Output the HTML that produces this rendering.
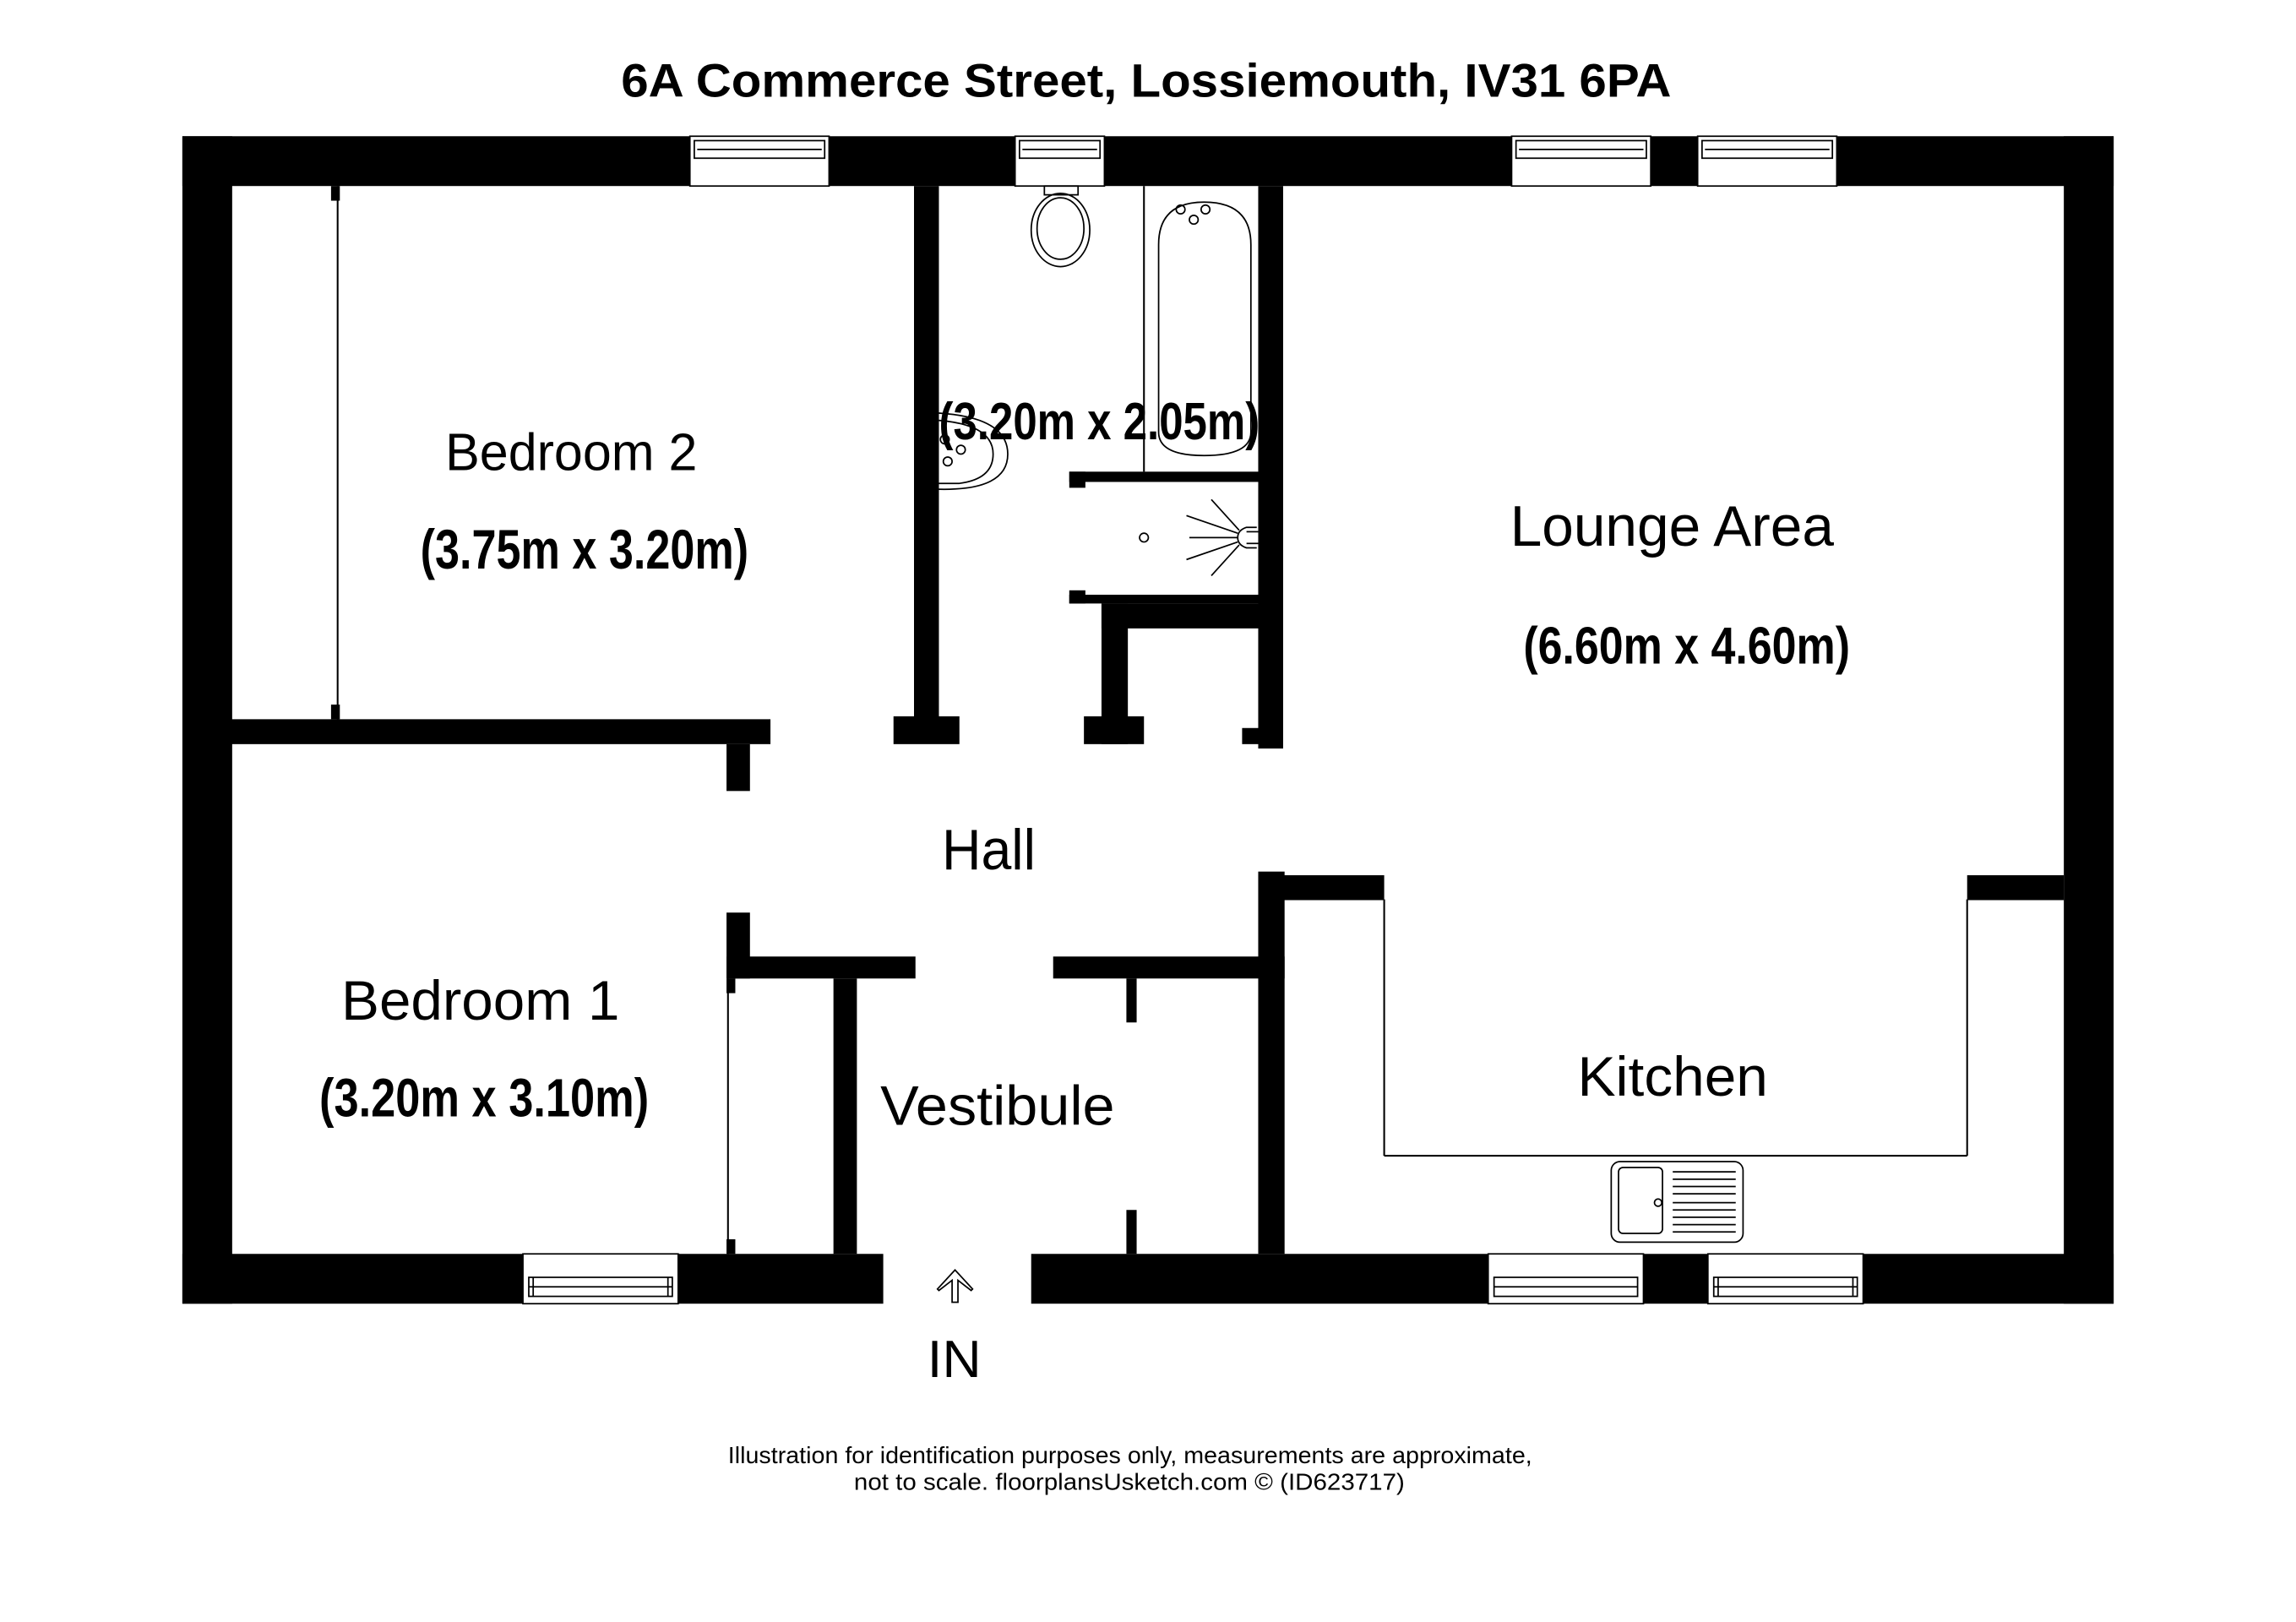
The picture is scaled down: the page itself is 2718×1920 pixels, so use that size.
<!DOCTYPE html>
<html><head><meta charset="utf-8"><style>
html,body{margin:0;padding:0;background:#fff;}
svg{display:block;}
text{font-family:"Liberation Sans",sans-serif;fill:#000;}
.b{font-weight:bold;}
</style></head><body>
<svg width="2718" height="1920" viewBox="0 0 1567.5 1107.3" xmlns="http://www.w3.org/2000/svg">
<rect x="0" y="0" width="1567.5" height="1107.3" fill="#fff"/>
<text class="b" x="424" y="66" font-size="32" textLength="717" lengthAdjust="spacingAndGlyphs">6A Commerce Street, Lossiemouth, IV31 6PA</text>

<!-- outer walls -->
<g fill="#000">
<rect x="124.5" y="93" width="1318.5" height="34"/>
<rect x="124.5" y="856" width="1318.5" height="34"/>
<rect x="124.5" y="93" width="34" height="797"/>
<rect x="1409" y="93" width="34" height="797"/>

<!-- bedroom2 / bedroom1 wall -->
<rect x="158" y="491" width="368" height="17"/>
<rect x="496" y="508" width="16" height="32"/>
<!-- bedroom2 closet ticks -->
<rect x="226" y="127" width="6" height="10"/>
<rect x="226" y="481" width="6" height="10"/>
<!-- bathroom left wall -->
<rect x="624" y="127" width="17" height="364"/>
<rect x="610" y="489" width="45" height="19"/>
<!-- bathroom right wall -->
<rect x="859" y="127" width="17" height="384"/>
<rect x="848" y="497" width="12" height="11"/>
<!-- bath/shower partitions -->
<rect x="730" y="322" width="130" height="7"/>
<rect x="730" y="322" width="11" height="11"/>
<rect x="730" y="406" width="130" height="6"/>
<rect x="730" y="403" width="11" height="9"/>
<rect x="752" y="412" width="108" height="17"/>
<rect x="752" y="412" width="18" height="96"/>
<rect x="740" y="489" width="41" height="19"/>

<!-- hall / bedroom1 -->
<rect x="496" y="623" width="16" height="45"/>
<rect x="496" y="653" width="129" height="15"/>
<rect x="569" y="668" width="16" height="188"/>
<rect x="496" y="668" width="6" height="10"/>
<rect x="496" y="846" width="6" height="10"/>
<!-- vestibule right -->
<rect x="719" y="653" width="158" height="15"/>
<rect x="769" y="668" width="7" height="30"/>
<rect x="769" y="826" width="7" height="30"/>
<rect x="859" y="595" width="18" height="261"/>
<rect x="859" y="597.5" width="86" height="17"/>
<rect x="1343" y="597.5" width="66" height="17"/>
</g>

<!-- entrance gap -->
<rect x="603" y="855" width="101" height="36" fill="#fff"/>

<!-- thin lines -->
<g stroke="#000" stroke-width="1.2" fill="none">
<line x1="230.5" y1="127" x2="230.5" y2="491"/>
<line x1="497" y1="668" x2="497" y2="856"/>
<line x1="945" y1="614" x2="945" y2="789"/>
<line x1="945" y1="789" x2="1343" y2="789"/>
<line x1="1343" y1="614" x2="1343" y2="789"/>
<line x1="781" y1="127" x2="781" y2="322"/>
</g>

<!-- windows -->
<g fill="#fff" stroke="#000" stroke-width="1">
<rect x="471" y="93" width="95" height="34"/>
<rect x="693" y="93" width="61" height="34"/>
<rect x="1032" y="93" width="95" height="34"/>
<rect x="1159" y="93" width="95" height="34"/>
<rect x="357" y="856" width="106" height="34"/>
<rect x="1016" y="856" width="106" height="34"/>
<rect x="1166" y="856" width="106" height="34"/>
</g>
<g fill="none" stroke="#000" stroke-width="1">
<rect x="474" y="96" width="89" height="12"/><line x1="476" y1="102" x2="561" y2="102"/>
<rect x="696" y="96" width="55" height="12"/><line x1="698" y1="102" x2="749" y2="102"/>
<rect x="1035" y="96" width="89" height="12"/><line x1="1037" y1="102" x2="1122" y2="102"/>
<rect x="1162" y="96" width="89" height="12"/><line x1="1164" y1="102" x2="1249" y2="102"/>
<rect x="361" y="872" width="98" height="13"/><line x1="361" y1="878.5" x2="459" y2="878.5"/>
<rect x="1020" y="872" width="98" height="13"/><line x1="1020" y1="878.5" x2="1118" y2="878.5"/>
<rect x="1170" y="872" width="98" height="13"/><line x1="1170" y1="878.5" x2="1268" y2="878.5"/>
<line x1="364" y1="872" x2="364" y2="885"/><line x1="456" y1="872" x2="456" y2="885"/>
<line x1="1173" y1="872" x2="1173" y2="885"/><line x1="1265" y1="872" x2="1265" y2="885"/>
</g>

<!-- toilet -->
<g fill="none" stroke="#000" stroke-width="1">
<rect x="713" y="127" width="23" height="6"/>
<ellipse cx="724" cy="157" rx="20" ry="25"/>
<ellipse cx="724" cy="156" rx="16" ry="21"/>
<!-- bath -->
<path d="M791,167 Q791,138 822,138 Q854,138 854,167 L854,295 Q854,311 822,311 Q791,311 791,295 Z"/>
<circle cx="806" cy="143" r="3"/><circle cx="823" cy="143" r="3"/><circle cx="815" cy="150" r="3"/>
<!-- basin -->
<path d="M641,282 Q688,285 688,310 Q688,335 641,334"/>
<path d="M641,287 Q678,290 678,310 Q678,327 655,330 L641,330"/>
<circle cx="645" cy="300" r="3"/><circle cx="647" cy="315" r="3"/><circle cx="656" cy="307" r="3"/>
<!-- shower -->
<circle cx="781" cy="367" r="3"/>
<path d="M858,360 L851,360 Q845,362 845,367 Q845,372 851,374 L858,374"/>
<line x1="851" y1="363" x2="859" y2="363"/><line x1="851" y1="371" x2="859" y2="371"/>
<line x1="845" y1="367" x2="812" y2="367"/>
<line x1="845" y1="364" x2="810" y2="352"/>
<line x1="845" y1="370" x2="810" y2="382"/>
<line x1="846" y1="362" x2="827" y2="341"/>
<line x1="846" y1="372" x2="827" y2="393"/>
<!-- kitchen sink -->
<rect x="1100" y="793" width="90" height="55" rx="6"/>
<rect x="1105" y="797" width="30" height="45" rx="3"/>
<circle cx="1132" cy="821" r="2.5"/>
</g>
<g stroke="#000" stroke-width="1">
<line x1="1142" y1="800" x2="1185" y2="800"/><line x1="1142" y1="805" x2="1185" y2="805"/>
<line x1="1142" y1="810" x2="1185" y2="810"/><line x1="1142" y1="815" x2="1185" y2="815"/>
<line x1="1142" y1="821" x2="1185" y2="821"/><line x1="1142" y1="826" x2="1185" y2="826"/>
<line x1="1142" y1="831" x2="1185" y2="831"/><line x1="1142" y1="836" x2="1185" y2="836"/>
<line x1="1142" y1="841" x2="1185" y2="841"/>
</g>

<!-- entrance arrow -->
<path d="M650,889 L650,874 L641,881 L640,880 L652,867 L664,880 L663,881 L654,874 L654,889 Z" fill="#fff" stroke="#000" stroke-width="1"/>

<!-- labels -->
<text x="304" y="321" font-size="36" textLength="172" lengthAdjust="spacingAndGlyphs">Bedroom 2</text>
<text class="b" x="287" y="388" font-size="38" textLength="224" lengthAdjust="spacingAndGlyphs">(3.75m x 3.20m)</text>
<text class="b" x="641" y="300" font-size="36" textLength="219" lengthAdjust="spacingAndGlyphs">(3.20m x 2.05m)</text>
<text x="1031" y="372.5" font-size="39" textLength="221" lengthAdjust="spacingAndGlyphs">Lounge Area</text>
<text class="b" x="1040" y="453" font-size="36" textLength="223" lengthAdjust="spacingAndGlyphs">(6.60m x 4.60m)</text>
<text x="643" y="593.5" font-size="39" textLength="64" lengthAdjust="spacingAndGlyphs">Hall</text>
<text x="233" y="696" font-size="38" textLength="190" lengthAdjust="spacingAndGlyphs">Bedroom 1</text>
<text class="b" x="218" y="762" font-size="37" textLength="225" lengthAdjust="spacingAndGlyphs">(3.20m x 3.10m)</text>
<text x="601" y="768" font-size="38" textLength="160" lengthAdjust="spacingAndGlyphs">Vestibule</text>
<text x="1077" y="748" font-size="38" textLength="130" lengthAdjust="spacingAndGlyphs">Kitchen</text>
<text x="633" y="940" font-size="36" textLength="37" lengthAdjust="spacingAndGlyphs">IN</text>
<text x="497" y="999" font-size="16" textLength="549" lengthAdjust="spacingAndGlyphs">Illustration for identification purposes only, measurements are approximate,</text>
<text x="583" y="1017" font-size="16" textLength="376" lengthAdjust="spacingAndGlyphs">not to scale. floorplansUsketch.com © (ID623717)</text>
</svg>
</body></html>
